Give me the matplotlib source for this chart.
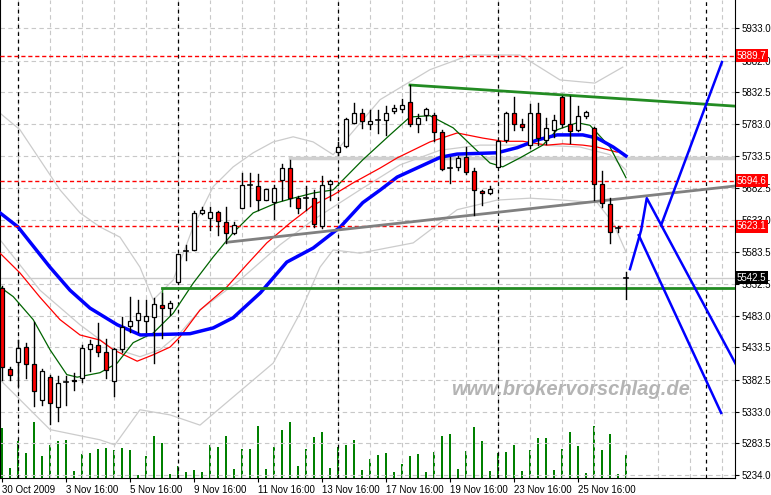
import numpy as np
import matplotlib.pyplot as plt
from matplotlib.patches import Rectangle

plt.rcParams["font.family"] = ["Liberation Sans", "DejaVu Sans"]

# OHLC per bar (price)
opens = [5527, 5400, 5411, 5434, 5408, 5351, 5387, 5340, 5380, 5383, 5386, 5431, 5437, 5427, 5381,
         5431, 5467, 5477, 5475, 5481, 5500, 5495,
         5536, 5584, 5586, 5644, 5636, 5645, 5630, 5613, 5652, 5688, 5686, 5664, 5661, 5695, 5714, 5667,
         5667, 5667, 5624, 5689, 5739, 5749, 5785, 5800, 5783, 5789, 5789, 5803, 5807, 5817, 5783, 5797,
         5797, 5771, 5714, 5716, 5731, 5710, 5678, 5675, 5716, 5758, 5800, 5783, 5750, 5800, 5758, 5774,
         5825, 5783, 5774, 5796, 5777, 5689, 5658, 5620, 5542]
highs = [5530, 5403, 5445, 5441, 5473, 5400, 5391, 5389, 5389, 5394, 5437, 5445, 5472, 5447, 5433,
         5481, 5512, 5508, 5508, 5511, 5519, 5506,
         5580, 5594, 5647, 5653, 5653, 5647, 5653, 5630, 5706, 5706, 5705, 5681, 5688, 5720, 5727, 5670,
         5686, 5680, 5702, 5695, 5755, 5792, 5816, 5807, 5805, 5805, 5811, 5813, 5822, 5844, 5799, 5808,
         5800, 5774, 5731, 5733, 5747, 5714, 5680, 5686, 5758, 5802, 5825, 5791, 5814, 5816, 5792, 5797,
         5827, 5827, 5811, 5803, 5778, 5710, 5667, 5624, 5552]
lows = [5383, 5383, 5373, 5386, 5342, 5344, 5314, 5319, 5344, 5367, 5380, 5397, 5420, 5386, 5358,
        5427, 5458, 5458, 5458, 5409, 5448, 5484,
        5533, 5570, 5586, 5642, 5617, 5609, 5597, 5611, 5652, 5655, 5649, 5664, 5634, 5664, 5655, 5644,
        5649, 5622, 5620, 5664, 5735, 5747, 5785, 5777, 5775, 5769, 5766, 5800, 5802, 5780, 5771, 5789,
        5756, 5711, 5691, 5711, 5705, 5641, 5656, 5674, 5716, 5755, 5774, 5774, 5746, 5750, 5752, 5763,
        5778, 5753, 5772, 5792, 5664, 5653, 5597, 5614, 5509]
closes = [5403, 5391, 5433, 5408, 5365, 5397, 5347, 5378, 5380, 5381, 5433, 5439, 5427, 5398, 5431,
          5466, 5475, 5487, 5483, 5502, 5495, 5503,
          5580, 5584, 5644, 5649, 5645, 5631, 5613, 5625, 5688, 5688, 5664, 5681, 5683, 5714, 5667, 5652,
          5667, 5627, 5688, 5694, 5747, 5791, 5800, 5788, 5788, 5789, 5800, 5808, 5813, 5783, 5792, 5807,
          5771, 5713, 5714, 5730, 5708, 5680, 5675, 5681, 5756, 5800, 5783, 5778, 5800, 5761, 5777, 5789,
          5783, 5772, 5796, 5802, 5689, 5660, 5614, 5620, 5542]
volumes = [50, 10, 37, 25, 56, 22, 33, 37, 38, 7, 24, 25, 29, 30, 28, 30, 28, 3, 22, 42, 35, 4, 12, 6,
           8, 6, 33, 31, 42, 9, 29, 29, 52, 9, 31, 48, 56, 12, 29, 41, 46, 10, 31, 33, 38, 8, 19, 23,
           25, 6, 14, 22, 24, 6, 26, 42, 44, 9, 27, 51, 37, 7, 25, 26, 33, 7, 28, 40, 40, 8, 29, 46,
           32, 5, 52, 28, 44, 4, 23]

# indicator lines (bar position, price)
blue_x = [-0.25, 2, 6, 8.5, 11, 14.4, 17.3, 23.5, 26.4, 28.9, 32.3, 35.6, 38.9, 42.3, 45.1, 47.3, 49.4,
          54.8, 56.9, 61.9, 64.4, 66.9, 69.4, 72.6, 74.4, 76.4, 78]
blue_y = [5644, 5622, 5559, 5523, 5495, 5469, 5453, 5455, 5464, 5480, 5519, 5567, 5589, 5622, 5660, 5680,
          5700, 5731, 5736, 5738, 5746, 5758, 5766, 5766, 5761, 5747, 5733]
red_x = [-0.25, 2.25, 4.75, 7.25, 9.75, 12.25, 13.9, 16.9, 18.9, 21, 22.25, 24.75, 28.1, 30.6, 33.1, 36,
         38.9, 41.4, 43.9, 47.25, 49.4, 53.5, 56.9, 60.1, 62.6, 65.1, 68.1, 70.1, 72.6, 74.4, 76.9]
red_y = [5581, 5550, 5512, 5477, 5453, 5445, 5430, 5412, 5422, 5434, 5450, 5492, 5528, 5563, 5597, 5628,
         5656, 5672, 5691, 5714, 5730, 5755, 5769, 5761, 5756, 5756, 5750, 5752, 5750, 5747, 5739]
green_x = [-0.25, 1.4, 3.9, 6, 8.1, 9.4, 12.25, 14.4, 16.4, 18.9, 21.4, 23.9, 26.4, 28.9, 31.4, 34.4,
           36.4, 38.9, 41.4, 45.1, 48.5, 51, 53.5, 56.4, 58.9, 61, 62.6, 64.75, 67.6, 69.4, 71.9, 73.5,
           76, 78]
green_y = [5528, 5513, 5477, 5430, 5391, 5387, 5394, 5409, 5441, 5456, 5487, 5534, 5575, 5613, 5644,
           5660, 5667, 5675, 5680, 5727, 5766, 5794, 5796, 5777, 5747, 5722, 5716, 5730, 5750, 5774,
           5785, 5781, 5747, 5699]
upper_x = [-0.25, 2.25, 4.75, 7.25, 9.75, 12.25, 14.75, 17.25, 18.9, 21.4, 23.9, 26.4, 28.9, 31.4,
           33.9, 36.4, 38.9, 41.4, 47.25, 53.5, 58.5, 64.75, 69.75, 74.1, 77.6]
upper_y = [5800, 5774, 5727, 5680, 5644, 5622, 5606, 5559, 5508, 5539, 5622, 5685, 5716, 5738, 5755,
           5763, 5755, 5735, 5821, 5868, 5891, 5891, 5852, 5847, 5872]
mid_x = [-0.25, 4.75, 9.75, 13.5, 17.25, 19.75, 22.25, 24.75, 29.75, 34.75, 38.9, 44.75, 49.75, 54.75,
         59.75, 67.25, 72.25, 76, 78]
mid_y = [5602, 5523, 5469, 5434, 5419, 5430, 5456, 5492, 5539, 5594, 5633, 5680, 5719, 5742, 5750,
         5750, 5747, 5735, 5711]
lower_x = [-0.25, 6, 12.25, 14.1, 17.25, 21, 24.75, 33.9, 37.25, 39.75, 41.4, 44.75, 51.4, 56.9, 61.9,
           66, 70.1, 74.4, 76.4, 78]
lower_y = [5383, 5305, 5289, 5281, 5336, 5328, 5312, 5409, 5487, 5559, 5586, 5581, 5597, 5649, 5664,
           5667, 5664, 5660, 5628, 5583]

# projection zigzags
proj1_x, proj1_y = [78.5, 79.9, 80.6, 92], [5556, 5617, 5667, 5401]
proj2_x, proj2_y = [79.6, 89.9], [5609, 5331]
proj3_x, proj3_y = [82.4, 90], [5625, 5880]

red_levels = [5889.7, 5694.6, 5623.1]
last_price = 5542.5
support = 5527
resist_flat = 5730
green_trend = ([51, 91.6], [5844, 5811])
gray_trend = ([28.1, 91.6], [5598, 5686])

yticks = [5234.0, 5283.5, 5333.0, 5382.5, 5433.5, 5483.0, 5532.5, 5583.5, 5633.0, 5682.5,
          5733.5, 5783.0, 5832.5, 5882.0, 5933.0]
xtick_bars = [0, 8, 16, 24, 32, 40, 48, 56, 64, 72]
xtick_labels = ["30 Oct 2009", "3 Nov 16:00", "5 Nov 16:00", "9 Nov 16:00", "11 Nov 16:00",
                "13 Nov 16:00", "17 Nov 16:00", "19 Nov 16:00", "23 Nov 16:00", "25 Nov 16:00"]
session_bars = [2, 22, 42, 62, 88]

fig = plt.figure(figsize=(7.71, 4.95), dpi=100)
ax = fig.add_axes([0.0, 0.034, 0.953, 0.966])
X0, X1, Y0, Y1 = -0.25, 91.6, 5229, 5977

# volume on hidden twin axis
axv = ax.twinx()
axv.bar(np.arange(len(volumes)), volumes, width=0.22, color="#008000", zorder=1)
axv.set_ylim(0, 478)
axv.axis("off")
ax.set_zorder(axv.get_zorder() + 1)
ax.patch.set_visible(False)

# grid
for b in np.arange(2, 92, 4):
    ax.axvline(b, color="#c8c8c8", lw=0.8, ls=(0, (4, 3)), zorder=0)
for t in yticks:
    ax.axhline(t, color="#c8c8c8", lw=0.8, ls=(0, (4, 3)), zorder=0)
for b in session_bars:
    ax.axvline(b, color="black", lw=0.9, ls=(0, (3, 3)), zorder=1)

# bands and averages
ax.plot(upper_x, upper_y, color="#cccccc", lw=0.9, zorder=2)
ax.plot(mid_x, mid_y, color="#cccccc", lw=0.9, zorder=2)
ax.plot(lower_x, lower_y, color="#cccccc", lw=0.9, zorder=2)
ax.axhline(last_price, color="#cccccc", lw=1, zorder=2)
ax.plot([36, X1], [resist_flat, resist_flat], color="#d0d0d0", lw=2.5, zorder=2)
ax.plot(red_x, red_y, color="red", lw=0.9, zorder=3)
ax.plot(green_x, green_y, color="#006400", lw=0.9, zorder=3)
ax.plot(blue_x, blue_y, color="blue", lw=2.5, zorder=3)

for lv in red_levels:
    ax.axhline(lv, color="red", lw=1, ls=(0, (3, 2)), zorder=3)

ax.plot([20, X1], [support, support], color="#228b22", lw=2, zorder=4)
ax.plot([20, 20], [support, support - 25], color="#228b22", lw=1, zorder=4)
ax.plot(*green_trend, color="#228b22", lw=2, zorder=4)
ax.plot(*gray_trend, color="#808080", lw=2, zorder=4)

# candles
for i in range(len(opens)):
    o, h, l, c = opens[i], highs[i], lows[i], closes[i]
    ax.plot([i, i], [l, h], color="black", lw=1, zorder=5)
    lo, hi = min(o, c), max(o, c)
    face = "red" if c < o else "white"
    if hi - lo < 2:
        ax.plot([i - 0.3, i + 0.3], [o, o], color="black", lw=1.2, zorder=6)
    else:
        ax.add_patch(Rectangle((i - 0.3, lo), 0.6, hi - lo, facecolor=face,
                               edgecolor="black", lw=0.9, zorder=6))

for px, py in [(proj1_x, proj1_y), (proj2_x, proj2_y), (proj3_x, proj3_y)]:
    ax.plot(px, py, color="blue", lw=1.8, zorder=7)

ax.text(0.777, 0.185, "www.brokervorschlag.de", transform=ax.transAxes, fontsize=14.5,
        fontweight="bold", style="italic", color="#b4b4b4", ha="center", va="center", zorder=8)

ax.set_xlim(X0, X1)
ax.set_ylim(Y0, Y1)
ax.yaxis.tick_right()
ax.set_yticks(yticks)
ax.set_yticklabels([f"{t:.1f}" for t in yticks], fontsize=7)
ax.set_xticks(xtick_bars)
ax.set_xticklabels(xtick_labels, fontsize=7, ha="left")
ax.tick_params(axis="x", length=3, pad=2)
ax.tick_params(axis="y", length=3, pad=2)
ax.spines["top"].set_visible(False)

for lv in red_levels:
    ax.text(1.003, lv, f"{lv:.1f}", transform=ax.get_yaxis_transform(), fontsize=7, color="white",
            va="center", ha="left", zorder=10,
            bbox=dict(boxstyle="square,pad=0.15", fc="red", ec="none"))
ax.text(1.003, last_price, f"{last_price:.1f}", transform=ax.get_yaxis_transform(), fontsize=7,
        color="white", va="center", ha="left", zorder=10,
        bbox=dict(boxstyle="square,pad=0.15", fc="black", ec="none"))

fig.savefig("out.png", dpi=100)
